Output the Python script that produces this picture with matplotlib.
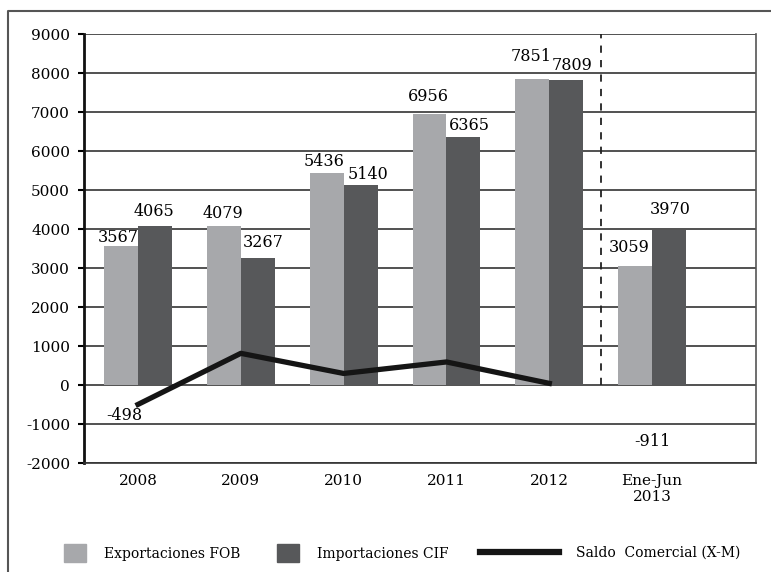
import matplotlib
matplotlib.use("Agg")
import matplotlib.pyplot as plt
from matplotlib.patches import Patch
from matplotlib.lines import Line2D
import numpy as np

periods = ["2008", "2009", "2010", "2011", "2012", "Ene-Jun\n2013"]
exports = [3567, 4079, 5436, 6956, 7851, 3059]
imports = [4065, 3267, 5140, 6365, 7809, 3970]
balance = [-498, 812, 296, 591, 42]
balance_partial = -911

# label nudges (points), as placed in the original
exp_off = [(-2, 0), (-1, 3), (-2, 2), (-1, 6), (-1, 10), (-4, 7)]
imp_off = [(-1, 5), (4, 5), (5, 1), (4, 2), (4, 5), (1, 9)]

light = "#a7a8ab"
dark = "#57585a"
plt.rcParams["font.family"] = ["DejaVu Serif"]
plt.rcParams["font.size"] = 10
plt.rcParams["axes.unicode_minus"] = False

fig = plt.figure(figsize=(7.71, 5.72), dpi=100)
W, H = 771, 572
ax = fig.add_axes([84 / W, 1 - 463 / H, (756 - 84) / W, (463 - 34) / H])

x = np.arange(len(periods))
bw = 0.33
ax.bar(x - bw / 2, exports, bw, color=light, zorder=2)
ax.bar(x + bw / 2, imports, bw, color=dark, zorder=2)
ax.plot(x[:len(balance)], balance, color="#151515", lw=3.8, zorder=3)

for xi, v, off in zip(x, exports, exp_off):
    ax.annotate(str(v), (xi - bw / 2, v), xytext=off, textcoords="offset points",
                ha="center", va="bottom", fontsize=11.5)
for xi, v, off in zip(x, imports, imp_off):
    ax.annotate(str(v), (xi + bw / 2, v), xytext=off, textcoords="offset points",
                ha="center", va="bottom", fontsize=11.5)
ax.annotate(str(balance[0]), (x[0], balance[0]), xytext=(-10, -8), textcoords="offset points",
            ha="center", va="center", fontsize=11.5)
ax.annotate(str(balance_partial), (x[5], balance_partial), xytext=(0, -15), textcoords="offset points",
            ha="center", va="center", fontsize=11.5)

ax.vlines(4.5, 0, 9000, colors="#222222", linestyles=(0, (4, 4)), lw=1.3, zorder=1)

ax.set_xlim(-0.525, 6.01)
ax.set_ylim(-2000, 9000)
ax.set_yticks(range(-2000, 9001, 1000))
ax.set_xticks(x)
ax.set_xticklabels(periods)
ax.yaxis.grid(True, color="#333333", lw=1.2, zorder=0)
ax.set_axisbelow(True)
ax.tick_params(axis="y", direction="out", length=4, width=1.5, pad=6, labelsize=11)
ax.tick_params(axis="x", length=0, pad=8, labelsize=11)
ax.spines["left"].set_linewidth(2)
ax.spines["left"].set_color("#111111")
ax.spines["bottom"].set_linewidth(1.2)
ax.spines["bottom"].set_color("#333333")
ax.spines["top"].set_visible(False)
ax.spines["right"].set_color("#555555")
ax.spines["right"].set_linewidth(1.2)

# outer frame (left and top edges)
fig.add_artist(Line2D([8 / W, 8 / W, 1.0], [0, 1 - 11 / H, 1 - 11 / H],
                      transform=fig.transFigure, color="#555555", lw=1.5))

ly = 1 - 553 / H
fig.legend(handles=[Patch(color=light)], labels=["Exportaciones FOB"], loc="center left",
           bbox_to_anchor=(64 / W, ly), frameon=False, handlelength=1.6, handleheight=1.6,
           handletextpad=1.3, borderpad=0, borderaxespad=0, fontsize=10)
fig.legend(handles=[Patch(color=dark)], labels=["Importaciones CIF"], loc="center left",
           bbox_to_anchor=(277 / W, ly), frameon=False, handlelength=1.6, handleheight=1.6,
           handletextpad=1.3, borderpad=0, borderaxespad=0, fontsize=10)
fig.legend(handles=[Line2D([], [], color="#151515", lw=4.5)], labels=["Saldo  Comercial (X-M)"],
           loc="center left", bbox_to_anchor=(480 / W, ly), frameon=False, handlelength=5.7,
           handletextpad=1.2, borderpad=0, borderaxespad=0, fontsize=10)

fig.savefig("out.png", dpi=100)
